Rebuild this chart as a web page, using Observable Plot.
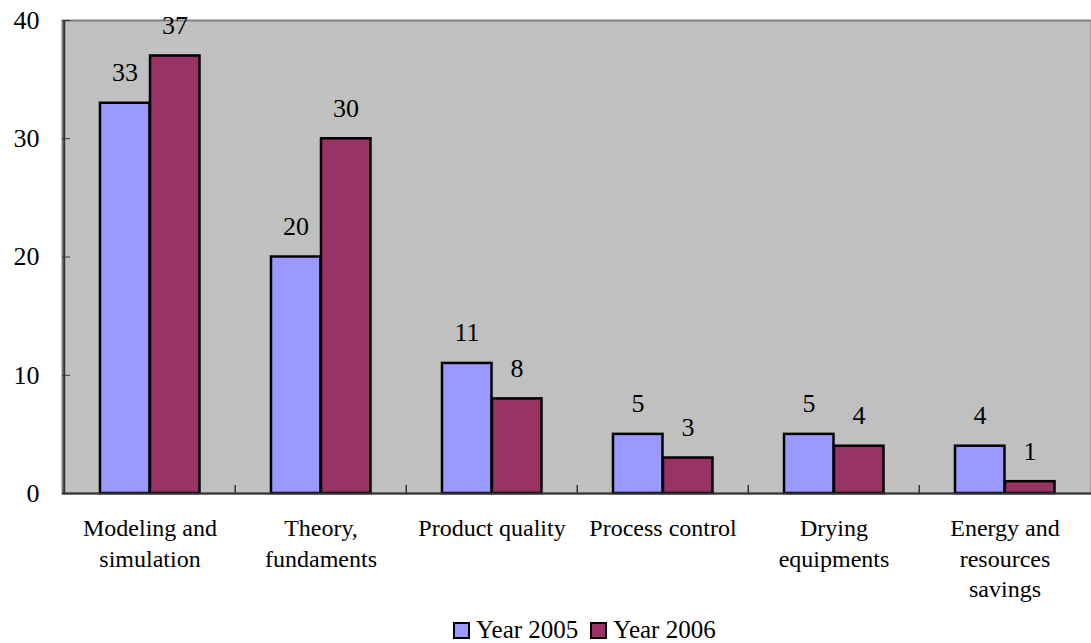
<!DOCTYPE html>
<html>
<head>
<meta charset="utf-8">
<script src="https://cdn.jsdelivr.net/npm/d3@7"></script>
<script src="https://cdn.jsdelivr.net/npm/@observablehq/plot@0.6"></script>
<style>
  html body, html body *, html body svg text, html body svg tspan { font-family: 'Liberation Serif', 'Times New Roman', Times, serif !important; }
</style>
</head>
<body style="margin:0;background:#fff">
<div id="wrap" style="position:relative;width:1091px;height:643px">
  <div id="chart"></div>
  <div id="legend" style="position:absolute;left:453px;top:616px;display:flex;align-items:center;font-size:25px;color:#000;white-space:nowrap"></div>
</div>
<script>
const categories = ["Modeling and simulation", "Theory, fundaments", "Product quality", "Process control", "Drying equipments", "Energy and resources savings"];
const categoryLabels = ["Modeling and\nsimulation", "Theory,\nfundaments", "Product quality", "Process control", "Drying\nequipments", "Energy and\nresources\nsavings"];
const values2005 = [33, 20, 11, 5, 5, 4];
const values2006 = [37, 30, 8, 3, 4, 1];
const seriesNames = ["Year 2005", "Year 2006"];
const yTicks = [0, 10, 20, 30, 40];

const colors = ["#9999FF", "#993366"];
const t2005 = categories.map((c, i) => ({category: c, value: values2005[i]}));
const t2006 = categories.map((c, i) => ({category: c, value: values2006[i]}));
const labelOf = new Map(categories.map((c, i) => [c, categoryLabels[i]]));

const chart = Plot.plot({
  width: 1091,
  height: 612,
  marginLeft: 62,
  marginRight: 0,
  marginTop: 20,
  marginBottom: 119,
  style: {background: "transparent", color: "#000", fontFamily: "Liberation Serif"},
  x: {type: "band", domain: categories, padding: 0, label: null},
  y: {domain: [0, 40], label: null},
  marks: [
    Plot.frame({fill: "#C0C0C0", stroke: "#808080", strokeWidth: 2}),
    Plot.barY(t2005, {x: "category", y: "value", fill: colors[0], stroke: "#000", strokeWidth: 2.5, insetLeft: 36, insetRight: 85.5}),
    Plot.barY(t2006, {x: "category", y: "value", fill: colors[1], stroke: "#000", strokeWidth: 2.5, insetLeft: 86, insetRight: 35.5}),
    Plot.text(t2005, {x: "category", y: "value", text: d => String(d.value), dx: -25, dy: -22, lineAnchor: "bottom", fontSize: 26, fill: "#000"}),
    Plot.text(t2006, {x: "category", y: "value", text: d => String(d.value), dx: 25, dy: -22, lineAnchor: "bottom", fontSize: 26, fill: "#000"}),
    Plot.ruleX(categories.slice(1), {x: d => d, dx: -85.75, y1: 0, y2: 0, insetTop: -8, stroke: "#333", strokeWidth: 1.5}),
    Plot.ruleY([0], {stroke: "#333", strokeWidth: 2}),
    Plot.ruleX([0], {x: () => categories[0], dx: -85.75, stroke: "#333", strokeWidth: 2}),
    Plot.axisY({ticks: yTicks, tickSize: -8, tickPadding: 31, fontSize: 26, stroke: "#333", tickFormat: d => String(d)}),
    Plot.axisX({tickSize: 0, tickPadding: 21, fontSize: 24, lineHeight: 1.27, tickFormat: d => labelOf.get(d)})
  ]
});
document.getElementById("chart").appendChild(chart);

const legend = document.getElementById("legend");
seriesNames.forEach((name, i) => {
  const item = document.createElement("span");
  item.style.cssText = "display:flex;align-items:center;margin-right:12px";
  const sw = document.createElement("span");
  sw.style.cssText = "width:13px;height:13px;border:2px solid #000;display:inline-block;margin-right:6px";
  sw.style.background = colors[i];
  item.appendChild(sw);
  item.appendChild(document.createTextNode(name));
  legend.appendChild(item);
});
</script>
</body>
</html>
